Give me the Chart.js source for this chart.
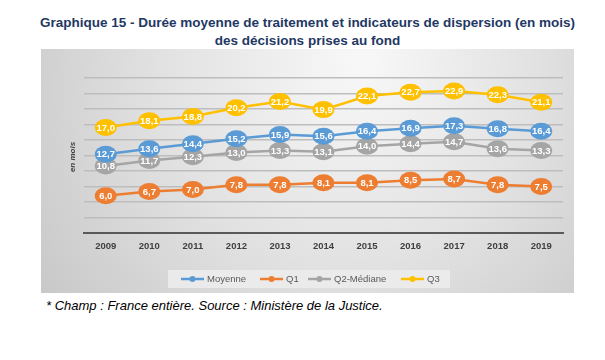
<!DOCTYPE html>
<html>
<head>
<meta charset="utf-8">
<script src="https://cdn.jsdelivr.net/npm/chart.js@4.4.1/dist/chart.umd.min.js"></script>
<style>
  html, body { margin: 0; padding: 0; background: #ffffff; width: 605px; height: 360px; overflow: hidden; }
  #title { position: absolute; left: 0; top: 14px; width: 615px; text-align: center;
    font-family: "Liberation Sans", Arial, sans-serif; font-weight: bold; font-size: 13.5px;
    line-height: 18px; color: #1F3864; }
  #wrap { position: absolute; left: 41px; top: 49px; width: 533px; height: 244px; }
  #note { position: absolute; left: 46px; top: 298px; font-family: "Liberation Sans", Arial, sans-serif;
    font-style: italic; font-size: 13px; color: #000; }
</style>
</head>
<body>
<div id="title">Graphique 15 - Durée moyenne de traitement et indicateurs de dispersion (en mois)<br>des décisions prises au fond</div>
<div id="wrap"><canvas id="c"></canvas></div>
<div id="note">* Champ : France entière. Source : Ministère de la Justice.</div>
<script>
const years = ['2009','2010','2011','2012','2013','2014','2015','2016','2017','2018','2019'];
const moyenne = [12.7, 13.6, 14.4, 15.2, 15.9, 15.6, 16.4, 16.9, 17.3, 16.8, 16.4];
const q1 = [6.0, 6.7, 7.0, 7.8, 7.8, 8.1, 8.1, 8.5, 8.7, 7.8, 7.5];
const q2 = [10.8, 11.7, 12.3, 13.0, 13.3, 13.1, 14.0, 14.4, 14.7, 13.6, 13.3];
const q3 = [17.0, 18.1, 18.8, 20.2, 21.2, 19.9, 22.1, 22.7, 22.9, 22.3, 21.1];
const seriesNames = ['Moyenne', 'Q1', 'Q2-Médiane', 'Q3'];
const seriesColors = ['#5B9BD5', '#ED7D31', '#A5A5A5', '#FFC000'];
const yTitle = 'en mois';

const fmt = v => v.toFixed(1).replace('.', ',');

const bgPlugin = {
  id: 'bg',
  beforeDraw(chart) {
    const ctx = chart.ctx, w = chart.width, h = chart.height;
    ctx.save();
    const g = ctx.createRadialGradient(w * 0.6, h * 0.05, 10, w * 0.55, h * 0.2, w * 0.75);
    g.addColorStop(0, '#f7f7f7');
    g.addColorStop(0.45, '#e2e2e2');
    g.addColorStop(1, '#c2c2c2');
    ctx.fillStyle = g;
    ctx.fillRect(0, 0, w, h);
    ctx.restore();
  },
  afterDraw(chart) {
    const ctx = chart.ctx;
    ctx.save();
    ctx.translate(32, 108);
    ctx.rotate(-Math.PI / 2);
    ctx.fillStyle = '#404040';
    ctx.font = 'italic bold 8px "Liberation Sans", Arial, sans-serif';
    ctx.textAlign = 'center';
    ctx.textBaseline = 'middle';
    ctx.fillText(yTitle, 0, 0);
    ctx.restore();
    ctx.save();
    ctx.fillStyle = 'rgba(236,236,236,0.9)';
    ctx.fillRect(127, 221, 282, 18);
    const xs = [140, 219, 267, 360];
    const cy = 230;
    ctx.font = '9.5px "Liberation Sans", Arial, sans-serif';
    ctx.textBaseline = 'middle';
    ctx.textAlign = 'left';
    seriesNames.forEach((name, i) => {
      ctx.strokeStyle = seriesColors[i];
      ctx.lineWidth = 2.5;
      ctx.beginPath();
      ctx.moveTo(xs[i], cy);
      ctx.lineTo(xs[i] + 23, cy);
      ctx.stroke();
      ctx.fillStyle = seriesColors[i];
      ctx.beginPath();
      ctx.arc(xs[i] + 11.5, cy, 3, 0, Math.PI * 2);
      ctx.fill();
      ctx.fillStyle = '#595959';
      ctx.fillText(name, xs[i] + 26, cy + 0.5);
    });
    ctx.restore();
  }
};

const labelPlugin = {
  id: 'dlabels',
  afterDatasetsDraw(chart) {
    const ctx = chart.ctx;
    const order = [1, 2, 0, 3];
    ctx.save();
    ctx.font = 'bold 9.5px "Liberation Sans", Arial, sans-serif';
    ctx.textAlign = 'center';
    ctx.textBaseline = 'middle';
    order.forEach(di => {
      const meta = chart.getDatasetMeta(di);
      const ds = chart.data.datasets[di];
      meta.data.forEach((pt, j) => {
        ctx.fillStyle = seriesColors[di];
        ctx.beginPath();
        ctx.ellipse(pt.x, pt.y, 11, 8.5, 0, 0, Math.PI * 2);
        ctx.fill();
        ctx.fillStyle = '#ffffff';
        ctx.fillText(fmt(ds.data[j]), pt.x, pt.y + 0.5);
      });
    });
    ctx.restore();
  }
};

const allSeries = [moyenne, q1, q2, q3];
new Chart(document.getElementById('c'), {
  type: 'line',
  data: {
    labels: years,
    datasets: allSeries.map((d, i) => ({
      label: seriesNames[i],
      data: d,
      borderColor: seriesColors[i],
      backgroundColor: seriesColors[i],
      borderWidth: 2.5,
      pointRadius: 0,
      tension: 0,
      fill: false
    }))
  },
  options: {
    responsive: true,
    maintainAspectRatio: false,
    devicePixelRatio: 1,
    animation: false,
    events: [],
    layout: { padding: { left: 43, right: 11, top: 29, bottom: 0 } },
    plugins: { legend: { display: false }, tooltip: { enabled: false }, title: { display: false } },
    scales: {
      x: {
        offset: true,
        grid: { display: false, drawTicks: false },
        border: { display: true, color: '#595959', width: 2 },
        ticks: { color: '#404040', font: { family: '"Liberation Sans", Arial, sans-serif', size: 9.5, weight: 'bold' }, padding: 8, maxRotation: 0 },
        afterFit(s) { s.height = 60; }
      },
      y: {
        min: 0, max: 25,
        ticks: { display: false, stepSize: 2.5 },
        grid: { color: '#bdbdbd', lineWidth: 1.5, drawTicks: false },
        border: { display: false },
        afterFit(s) { s.width = 0; }
      }
    }
  },
  plugins: [bgPlugin, labelPlugin]
});
</script>
</body>
</html>
